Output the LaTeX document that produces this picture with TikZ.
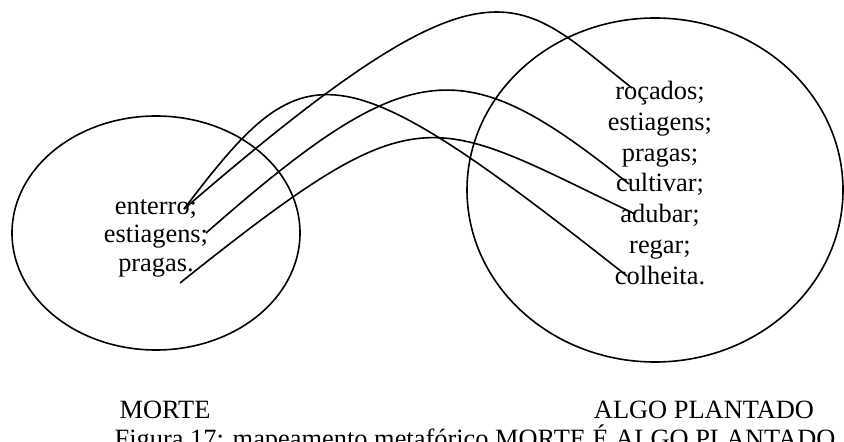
\documentclass[tikz,border=0pt]{standalone}
\usepackage{fontspec}
\setmainfont{Liberation Serif}
\usetikzlibrary{shapes.geometric}

\begin{document}
\begin{tikzpicture}[
    x=0.5pt, y=-0.5pt,
    mapset/.style={ellipse, draw, line width=0.8pt, inner sep=0pt},
    word/.style={anchor=base, inner sep=0pt, font=\fontsize{13.2}{15}\selectfont},
    mapline/.style={line width=0.8pt}
]

\clip (0,0) rectangle (844,442);

% Domains
\node[mapset, minimum width=144pt, minimum height=117pt] (morte) at (156,233) {};
\node[mapset, minimum width=188pt, minimum height=172pt] (plantado) at (655,190) {};

% Source domain items
\node[word] (enterro) at (156,215) {enterro;};
\node[word] (estiagensA) at (156,243) {estiagens;};
\node[word] (pragasA) at (156,272) {pragas.};

% Target domain items
\node[word] (rocados) at (660,100) {roçados;};
\node[word] (estiagensB) at (660,131) {estiagens;};
\node[word] (pragasB) at (660,162) {pragas;};
\node[word] (cultivar) at (660,192) {cultivar;};
\node[word] (adubar) at (660,223) {adubar;};
\node[word] (regar) at (660,254) {regar;};
\node[word] (colheita) at (660,285) {colheita.};

% Domain names and caption
\node[word] (nomeA) at (165,418) {MORTE};
\node[word] (nomeB) at (704,418) {ALGO PLANTADO};
\node[word] (legenda) at (475,447) {Figura 17: mapeamento metafórico MORTE É ALGO PLANTADO};

% Line ends
\coordinate (sEnterro) at (184,209);
\coordinate (sEstiagens) at (206,233);
\coordinate (sPragas) at (180,283);
\coordinate (tRocados) at (632,88);
\coordinate (tCultivar) at (629,184);
\coordinate (tAdubar) at (635,214);
\coordinate (tColheita) at (627,276);

% Mappings
\draw[mapline] (sEnterro) .. controls (495,-60) and (515,-4) .. (tRocados);
\draw[mapline] (sEnterro) .. controls (305,50) and (332,43) .. (tColheita);
\draw[mapline] (sEstiagens) .. controls (413,51) and (464,52) .. (tCultivar);
\draw[mapline] (sPragas) .. controls (423,89) and (426,114) .. (tAdubar);

\end{tikzpicture}
\end{document}
